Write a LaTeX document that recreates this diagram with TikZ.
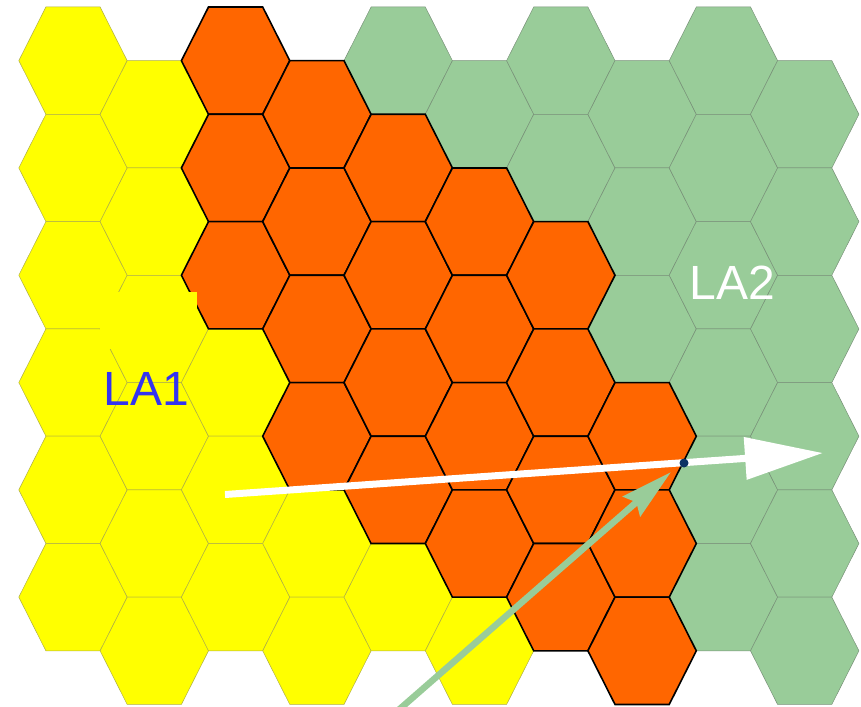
\documentclass[tikz,border=0pt]{standalone}
\usepackage{fontspec}
\newfontfamily\labfont{Liberation Sans}
\usetikzlibrary{arrows.meta}
\definecolor{hexyellow}{RGB}{255,255,0}
\definecolor{hexorange}{RGB}{255,102,0}
\definecolor{hexgreen}{RGB}{153,204,153}
\definecolor{yedge}{RGB}{175,175,70}
\definecolor{gedge}{RGB}{120,145,120}
\definecolor{la1blue}{RGB}{51,51,240}
\definecolor{dotblue}{RGB}{12,50,100}
\definecolor{garrow}{RGB}{153,204,153}
\begin{document}
\begin{tikzpicture}[x=1pt,y=-1pt,
  hexa/.pic={\path[pic actions] (-27.1,-53.65) -- (27.1,-53.65) -- (54.2,0) -- (27.1,53.65) -- (-27.1,53.65) -- (-54.2,0) -- cycle;},
  yhex/.style={fill=hexyellow, draw=yedge, line width=0.5pt},
  ghex/.style={fill=hexgreen, draw=gedge, line width=0.5pt},
  ohex/.style={fill=hexorange, draw=black, line width=1.6pt, line join=miter},
  lab/.style={anchor=base west, inner sep=0pt, font=\labfont\fontsize{48}{48}\selectfont}]
\useasboundingbox (0,0) rectangle (861,706);
\clip (0,0) rectangle (861,706);
\foreach \c/\r in {0/0,0/1,0/2,0/3,0/4,0/5,1/0,1/1,1/2,1/3,1/4,1/5,2/3,2/4,2/5,3/4,3/5,4/5,5/5}
  \path ({73+81.3*\c},{60.65+107.3*\r+53.65*mod(\c,2)}) pic[yhex]{hexa};
\foreach \c/\r in {4/0,5/0,6/0,6/1,7/0,7/1,7/2,8/0,8/1,8/2,8/3,8/4,8/5,9/0,9/1,9/2,9/3,9/4,9/5}
  \path ({73+81.3*\c},{60.65+107.3*\r+53.65*mod(\c,2)}) pic[ghex]{hexa};
\foreach \c/\r in {2/0,2/1,2/2,3/0,3/1,3/2,3/3,4/1,4/2,4/3,4/4,5/1,5/2,5/3,5/4,6/2,6/3,6/4,6/5,7/3,7/4,7/5}
  \path ({73+81.3*\c},{60.65+107.3*\r+53.65*mod(\c,2)}) pic[ohex]{hexa};
\fill[hexyellow] (100,292) rectangle (197,349);
\node[lab, text=la1blue] (la1) at (103.5,405) {LA1};
\node[lab, text=white] (la2) at (689.5,299) {LA2};
\coordinate (gs) at (398,710.5);
\coordinate (gt) at (671,472);
\coordinate (ws) at (225,494.5);
\coordinate (wt) at (823,453);
\draw[garrow, line width=6.5pt, -{Stealth[length=52pt,width=26pt,inset=6pt]}] (gs) -- (gt);
\draw[white, line width=7pt, -{Triangle[length=78pt,width=41pt]}] (ws) -- (wt);
\node[circle, fill=dotblue, inner sep=0pt, minimum size=9pt] (dot) at (684,463) {};
\end{tikzpicture}
\end{document}
